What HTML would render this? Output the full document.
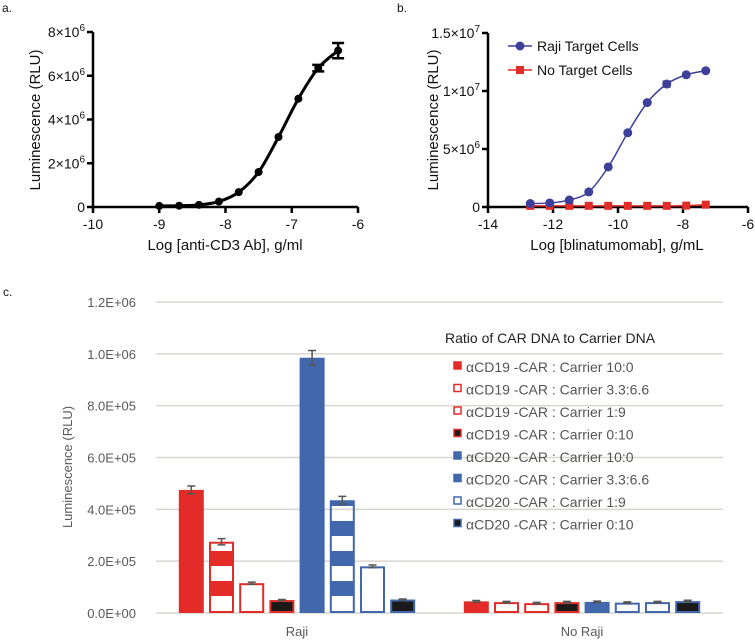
<!DOCTYPE html>
<html><head><meta charset="utf-8"><style>
body{margin:0;background:#fff;}
svg{display:block;font-family:"Liberation Sans",Arial,sans-serif;}
</style></head><body>
<svg id="fig" width="755" height="642" viewBox="0 0 755 642">
<defs>
<pattern id="stripeRed" patternUnits="userSpaceOnUse" x="0" y="611" width="10" height="30"><rect x="0" y="0" width="10" height="15" fill="#e32b27"/></pattern>
<pattern id="stripeBlue" patternUnits="userSpaceOnUse" x="0" y="611" width="10" height="30"><rect x="0" y="0" width="10" height="15" fill="#4167ac"/></pattern>
</defs>
<g id="pa"></g>
<g id="pb"></g>
<g id="pc"></g>
</svg>
<script>
// Panel a data
const aX = [-9,-8.7,-8.4,-8.1,-7.8,-7.5,-7.2,-6.9,-6.6,-6.3];
const aY = [0.05,0.06,0.1,0.25,0.68,1.6,3.2,4.95,6.35,7.15];
const aErr = [0,0,0,0,0,0,0,0,0.15,0.35];
const aXTicks = [-10,-9,-8,-7,-6];
const aYTicks = [0,2,4,6,8];
// Panel b data
const bX = [-12.7,-12.1,-11.5,-10.9,-10.3,-9.7,-9.1,-8.5,-7.9,-7.3];
const bRaji = [0.3,0.35,0.6,1.3,3.45,6.4,9.0,10.6,11.4,11.75];
const bRajiErr = [0,0,0,0,0,0,0,0.25,0,0];
const bNo = [0.1,0.1,0.1,0.1,0.1,0.1,0.1,0.1,0.12,0.2];
const bXTicks = [-14,-12,-10,-8,-6];
const bYTicks = [0,5,10,15];
const bYLabels = ["0","5×10^6","1×10^7","1.5×10^7"];
// Panel c data
const cGroups = ["Raji","No Raji"];
const cSeries = ["αCD19 -CAR : Carrier 10:0","αCD19 -CAR : Carrier 3.3:6.6","αCD19 -CAR : Carrier 1:9","αCD19 -CAR : Carrier 0:10","αCD20 -CAR : Carrier 10:0","αCD20 -CAR : Carrier 3.3:6.6","αCD20 -CAR : Carrier 1:9","αCD20 -CAR : Carrier 0:10"];
const cRaji = [475000,275000,115000,50000,985000,435000,180000,52000];
const cNoRaji = [45000,42000,38000,42000,43000,40000,42000,46000];
const cRajiErr = [15000,12000,4000,2000,28000,15000,5000,2000];
const cNoRajiErr = [3000,3000,3000,3000,3000,3000,3000,3000];
const cYTicks = [0,200000,400000,600000,800000,1000000,1200000];
const cYLabels = ["0.0E+00","2.0E+05","4.0E+05","6.0E+05","8.0E+05","1.0E+06","1.2E+06"];

const NS="http://www.w3.org/2000/svg";
function mk(parent,tag,attrs,text){const e=document.createElementNS(NS,tag);for(const k in attrs)e.setAttribute(k,attrs[k]);if(text!==undefined)e.textContent=text;parent.appendChild(e);return e;}
function smooth(pts){let d=`M${pts[0][0]},${pts[0][1]}`;for(let i=0;i<pts.length-1;i++){const p0=pts[i-1]||pts[i],p1=pts[i],p2=pts[i+1],p3=pts[i+2]||p2;d+=` C${p1[0]+(p2[0]-p0[0])/6},${p1[1]+(p2[1]-p0[1])/6} ${p2[0]-(p3[0]-p1[0])/6},${p2[1]-(p3[1]-p1[1])/6} ${p2[0]},${p2[1]}`;}return d;}
function sciLabel(g,x,y,mant,exp){const t=mk(g,'text',{x:x,y:y,'text-anchor':'end','font-size':14,fill:'#111'});
 if(exp===null){t.textContent=mant;return t;}
 const s1=document.createElementNS(NS,'tspan');s1.textContent=mant+"×10";t.appendChild(s1);
 const s2=document.createElementNS(NS,'tspan');s2.setAttribute('dy','-6');s2.setAttribute('font-size','10');s2.textContent=exp;t.appendChild(s2);
 return t;}

// ---------- Panel a ----------
(function(){
const g=document.getElementById('pa');
const X=v=>93+(v+10)*(265/4), Y=v=>207-v*(175/8);
mk(g,'text',{x:2,y:12,'font-size':12,fill:'#111'},'a.');
const ax=mk(g,'path',{d:`M93,${Y(8)} V207 H${X(-6)}`,stroke:'#000','stroke-width':2.5,fill:'none'});

aYTicks.forEach(v=>{mk(g,'line',{x1:87,x2:93,y1:Y(v),y2:Y(v),stroke:'#000','stroke-width':2.5});
 const l=v===0?sciLabel(g,85,Y(v)+5,"0",null):sciLabel(g,85,Y(v)+5,String(v),"6");
 });
aXTicks.forEach(v=>{mk(g,'line',{x1:X(v),x2:X(v),y1:207,y2:213,stroke:'#000','stroke-width':2.5});
 const t=mk(g,'text',{x:X(v),y:229,'text-anchor':'middle','font-size':14,fill:'#111'},String(v));
 });
const xt=mk(g,'text',{x:225,y:250,'text-anchor':'middle','font-size':15,fill:'#111'},'Log [anti-CD3 Ab], g/ml');

const yt=mk(g,'text',{x:0,y:0,transform:'translate(40,120) rotate(-90)','text-anchor':'middle','font-size':15,fill:'#111'},'Luminescence (RLU)');

const pts=aX.map((x,i)=>[X(x),Y(aY[i])]);
const ln=mk(g,'path',{d:smooth(pts),stroke:'#000','stroke-width':3,fill:'none'});

aX.forEach((x,i)=>{if(aErr[i]>0){const cx=X(x),y1=Y(aY[i]+aErr[i]),y2=Y(aY[i]-aErr[i]);
 mk(g,'path',{d:`M${cx},${y1}V${y2}M${cx-6},${y1}H${cx+6}M${cx-6},${y2}H${cx+6}`,stroke:'#000','stroke-width':2.5,fill:'none'});}
 const c=mk(g,'circle',{cx:X(x),cy:Y(aY[i]),r:4,fill:'#000'});
 });
})();

// ---------- Panel b ----------
(function(){
const g=document.getElementById('pb');
const X=v=>488+(v+14)*(260/8), Y=v=>207-v*(174/15);
mk(g,'text',{x:397,y:12,'font-size':12,fill:'#111'},'b.');
mk(g,'path',{d:`M488,${Y(15)} V207 H${X(-6)}`,stroke:'#000','stroke-width':2.5,fill:'none'});
bYTicks.forEach((v,i)=>{mk(g,'line',{x1:482,x2:488,y1:Y(v),y2:Y(v),stroke:'#000','stroke-width':2.5});
 const p=bYLabels[i].split('^');sciLabel(g,480,Y(v)+5,p[0].replace('×10',''),p.length>1?p[1]:null);});
bXTicks.forEach(v=>{mk(g,'line',{x1:X(v),x2:X(v),y1:207,y2:213,stroke:'#000','stroke-width':2.5});
 const t=mk(g,'text',{x:X(v),y:229,'text-anchor':'middle','font-size':14,fill:'#111'},String(v));
 });
const xt=mk(g,'text',{x:617,y:250,'text-anchor':'middle','font-size':15,fill:'#111'},'Log [blinatumomab], g/mL');

const yt=mk(g,'text',{x:0,y:0,transform:'translate(438,120) rotate(-90)','text-anchor':'middle','font-size':15,fill:'#111'},'Luminescence (RLU)');

const np=bX.map((x,i)=>[X(x),Y(bNo[i])]);
mk(g,'path',{d:smooth(np),stroke:'#e32b27','stroke-width':1.5,fill:'none'});
bX.forEach((x,i)=>{const r=mk(g,'rect',{x:X(x)-4,y:Y(bNo[i])-4,width:8,height:8,fill:'#e32b27'});
 });
const rp=bX.map((x,i)=>[X(x),Y(bRaji[i])]);
const ln=mk(g,'path',{d:smooth(rp),stroke:'#3d3f9a','stroke-width':1.5,fill:'none'});

bX.forEach((x,i)=>{if(bRajiErr[i]>0){const cx=X(x),y1=Y(bRaji[i]+bRajiErr[i]),y2=Y(bRaji[i]-bRajiErr[i]);
 mk(g,'path',{d:`M${cx},${y1}V${y2}M${cx-4},${y1}H${cx+4}M${cx-4},${y2}H${cx+4}`,stroke:'#3d3f9a','stroke-width':1.5,fill:'none'});}
 const c=mk(g,'circle',{cx:X(x),cy:Y(bRaji[i]),r:4.5,fill:'#3d3f9a'});
 });
const l1=mk(g,'g',{});
mk(l1,'line',{x1:508,x2:532,y1:46,y2:46,stroke:'#3d3f9a','stroke-width':1.5});mk(l1,'circle',{cx:520,cy:46,r:4.5,fill:'#3d3f9a'});
mk(l1,'text',{x:537,y:51,'font-size':14,fill:'#111'},'Raji Target Cells');
const l2=mk(g,'g',{});
mk(l2,'line',{x1:508,x2:532,y1:70,y2:70,stroke:'#e32b27','stroke-width':1.5});mk(l2,'rect',{x:516,y:66,width:8,height:8,fill:'#e32b27'});
mk(l2,'text',{x:537,y:75,'font-size':14,fill:'#111'},'No Target Cells');
})();

// ---------- Panel c ----------
(function(){
const g=document.getElementById('pc');
const Y=v=>613-v*(311/1200000);
const groupCenter=[297,582], step=30.2, bw=25;
const colors=['#e32b27','#e32b27','#e32b27','#e32b27','#4167ac','#4167ac','#4167ac','#4167ac'];
const fills=['#e32b27','url(#stripeRed)','#fff','#1a1a1a','#4167ac','url(#stripeBlue)','#fff','#1a1a1a'];
mk(g,'text',{x:3,y:296,'font-size':12,fill:'#111'},'c.');
cYTicks.forEach((v,i)=>{const gl=mk(g,'line',{x1:156,x2:723,y1:Y(v),y2:Y(v),stroke:'#d9d5d0','stroke-width':1.5});
 
 const t=mk(g,'text',{x:136,y:Y(v)+5,'text-anchor':'end','font-size':13,fill:'#595959'},cYLabels[i]);
 });
const yt=mk(g,'text',{x:0,y:0,transform:'translate(72,467) rotate(-90)','text-anchor':'middle','font-size':13,fill:'#595959'},'Luminescence (RLU)');

[cRaji,cNoRaji].forEach((vals,gi)=>{const errs=gi===0?cRajiErr:cNoRajiErr;
 vals.forEach((v,i)=>{const cx=groupCenter[gi]+(i-3.5)*step;const y=Y(v);
  const r=mk(g,'rect',{x:cx-bw/2+1,y:y+1,width:bw-2,height:613-y-2,fill:fills[i],stroke:colors[i],'stroke-width':2});
  
  
  const y1=Y(v+errs[i]),y2=Y(v-errs[i]);
  mk(g,'path',{d:`M${cx},${y1}V${y2}M${cx-4},${y1}H${cx+4}M${cx-4},${y2}H${cx+4}`,stroke:'#555','stroke-width':1.5,fill:'none'});});
 const t=mk(g,'text',{x:groupCenter[gi],y:636,'text-anchor':'middle','font-size':13,fill:'#595959'},cGroups[gi]);
 });
const lt=mk(g,'text',{x:445,y:343,'font-size':14,fill:'#222'},'Ratio of CAR DNA to Carrier DNA');

cSeries.forEach((s,i)=>{const y=372+i*22.5;const le=mk(g,'g',{});
 
 const hollow=(i===1||i===2||i===6);
 mk(le,'rect',{x:454,y:y-10,width:7,height:7,fill:hollow&&i!==6&&i!==2?'#fff':(hollow?'#fff':(i===3||i===7?'#1a1a1a':colors[i])),stroke:colors[i],'stroke-width':1.5});
 mk(le,'text',{x:466,y:y,'font-size':14,fill:'#555'},s);});
})();
</script>
</body></html>
